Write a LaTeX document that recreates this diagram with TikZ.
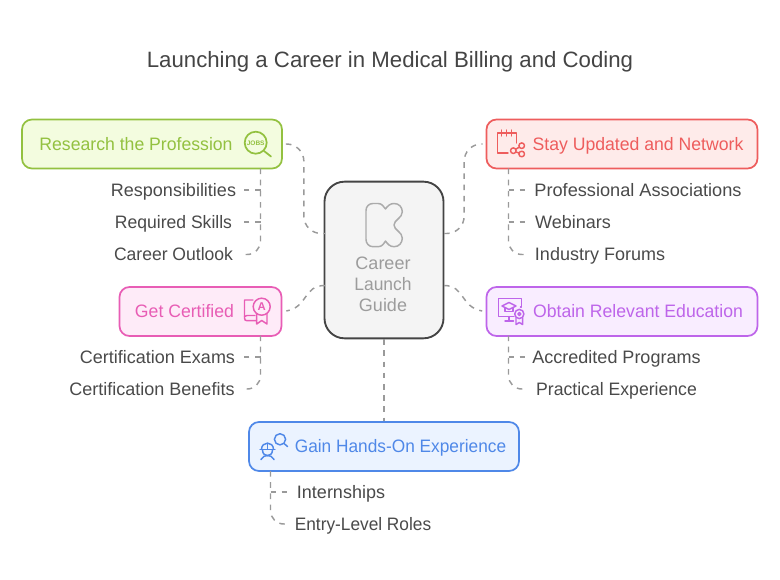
\documentclass[tikz,border=0pt]{standalone}
\usepackage{fontspec}
\usepackage{graphicx}
\setmainfont{Liberation Sans}
\usetikzlibrary{calc}
\newcommand{\sq}[2]{\scalebox{#1}[1]{#2}}
\definecolor{ink}{HTML}{4A4A4A}
\definecolor{wire}{HTML}{9A9A9A}
\definecolor{gS}{HTML}{93C140}\definecolor{gF}{HTML}{F3FCDF}
\definecolor{rS}{HTML}{EE5D5D}\definecolor{rF}{HTML}{FEEBEA}
\definecolor{pS}{HTML}{E85DB5}\definecolor{pF}{HTML}{FEEBF8}
\definecolor{vS}{HTML}{BE65EA}\definecolor{vF}{HTML}{F9EDFF}
\definecolor{bS}{HTML}{4F88E8}\definecolor{bF}{HTML}{EBF3FF}
\definecolor{hubF}{HTML}{F4F4F4}\definecolor{hubS}{HTML}{444444}\definecolor{hubT}{HTML}{9C9C9C}
\tikzset{
 x=.75pt,y=-.75pt,
 card/.style={draw=#1S,fill=#1F,line width=1.3pt,rounded corners=7.5pt,inner sep=0pt},
 hubbox/.style={draw=hubS,fill=hubF,line width=1.4pt,rounded corners=15pt,inner sep=0pt},
 head/.style={text=#1S,font=\fontsize{13.5pt}{16pt}\selectfont,anchor=base,inner sep=0pt},
 sub/.style={text=ink,font=\fontsize{13.5pt}{16pt}\selectfont,anchor=base,inner sep=0pt},
 hubtxt/.style={text=hubT,font=\fontsize{13.5pt}{16pt}\selectfont,anchor=base,inner sep=0pt},
 link/.style={draw=wire,line width=1.1pt,dash pattern=on 4.2pt off 4.2pt},
 icon/.style={draw=#1S,line width=1.1pt,line cap=round,line join=round,fill=none},
}
\begin{document}
\begin{tikzpicture}
\useasboundingbox (0,0) rectangle (780,580);
\fill[white] (0,0) rectangle (780,580);
\node[anchor=base,inner sep=0pt,text=hubS,font=\fontsize{16.65pt}{20pt}\selectfont] (title) at (390,68) {Launching a Career in Medical Billing and Coding};

% free connector ends
\coordinate (hubNW) at (325,233.5);
\coordinate (hubNE) at (444,233.5);
\coordinate (hubSW) at (325,285.5);
\coordinate (hubSE) at (444,285.5);
\coordinate (rEnd1) at (244,190);\coordinate (rEnd2) at (244,222);\coordinate (rEnd3) at (243,254.5);
\coordinate (sEnd1) at (525,190);\coordinate (sEnd2) at (525,222);\coordinate (sEnd3) at (526,254.5);
\coordinate (cEnd1) at (244,357);\coordinate (cEnd2) at (243,389);
\coordinate (oEnd1) at (525,357);\coordinate (oEnd2) at (526,389);
\coordinate (gEnd1) at (287,492);\coordinate (gEnd2) at (288,524);
\coordinate (rBus) at (260.5,168.5);\coordinate (sBus) at (508.5,168.5);
\coordinate (cBus) at (260.5,335.5);\coordinate (oBus) at (508.5,335.5);\coordinate (gBus) at (270.5,471);

% boxes
\node[card=g,minimum width=195pt,minimum height=36.75pt] (research) at (152,144) {};
\node[card=r,minimum width=203.25pt,minimum height=36.75pt] (stay) at (622,144) {};
\node[card=p,minimum width=121.5pt,minimum height=36.75pt] (cert) at (200.5,311.5) {};
\node[card=v,minimum width=203.25pt,minimum height=36.75pt] (edu) at (622,311.5) {};
\node[card=b,minimum width=202.5pt,minimum height=36.75pt] (gain) at (384,446.5) {};
\node[hubbox,minimum width=89.25pt,minimum height=117.5pt] (hub) at (384,260) {};

% hub links
\draw[link,rounded corners=13pt] ([shift={(3,0)}]research.east) -| ($(research.east)+(21,45)$) |- (hubNW);
\draw[link,rounded corners=13pt] (hubNE) -| ($(stay.west)+(-21.5,0)$) -- ([shift={(-3,0)}]stay.west);
\draw[link] (hubSW) .. controls (303,285.5) and ($(cert.east)+(26,-4.5)$) .. ([shift={(4,-.5)}]cert.east);
\draw[link] (hubSE) .. controls (465,285.5) and ($(edu.west)+(-25.5,-4.5)$) .. ([shift={(-3.5,-.5)}]edu.west);
\draw[link] (hub.south) -- (gain.north);

% branch links
\draw[link,rounded corners=10pt] (rBus) |- (rEnd3);
\draw[link] (rBus |- rEnd1) -- (rEnd1);
\draw[link] (rBus |- rEnd2) -- (rEnd2);
\draw[link,rounded corners=10pt] (sBus) |- (sEnd3);
\draw[link] (sBus |- sEnd1) -- (sEnd1);
\draw[link] (sBus |- sEnd2) -- (sEnd2);
\draw[link,rounded corners=10pt] (cBus) |- (cEnd2);
\draw[link] (cBus |- cEnd1) -- (cEnd1);
\draw[link,rounded corners=10pt] (oBus) |- (oEnd2);
\draw[link] (oBus |- oEnd1) -- (oEnd1);
\draw[link,rounded corners=10pt] (gBus) |- (gEnd2);
\draw[link] (gBus |- gEnd1) -- (gEnd1);

% texts
\node[head=g] (t1) at (136,150.7) {\sq{.98}{Research the Profession}};
\node[sub] (t1a) at (173.5,196.7) {Responsibilities};
\node[sub] (t1b) at (173.5,228.7) {\sq{.975}{Required Skills}};
\node[sub] (t1c) at (173.5,260.7) {\sq{.975}{Career Outlook}};
\node[head=r] (t2) at (638,150.7) {\sq{.98}{Stay Updated and Network}};
\node[sub] (t2a) at (638,196.7) {\sq{1.01}{Professional Associations}};
\node[sub] (t2b) at (573,228.7) {Webinars};
\node[sub] (t2c) at (600,260.7) {Industry Forums};
\node[head=p] (t3) at (184.5,317.7) {\sq{.98}{Get Certified}};
\node[sub] (t3a) at (157.5,363.4) {Certification Exams};
\node[sub] (t3b) at (152,395.4) {Certification Benefits};
\node[head=v] (t4) at (638,317.7) {\sq{.98}{Obtain Relevant Education}};
\node[sub] (t4a) at (616.5,363.4) {Accredited Programs};
\node[sub] (t4b) at (616.5,395.4) {\sq{.98}{Practical Experience}};
\node[head=b] (t5) at (400.5,452.7) {\sq{.96}{Gain Hands-On Experience}};
\node[sub] (t5a) at (341,498.4) {Internships};
\node[sub] (t5b) at (363,530.4) {\sq{.96}{Entry-Level Roles}};
\node[hubtxt] (h1) at (383,269.8) {Career};
\node[hubtxt] (h2) at (383,290.8) {\sq{.97}{Launch}};
\node[hubtxt] (h3) at (383,311.8) {Guide};

% hub logo
\draw[draw=hubT!85!white,line width=1.1pt,line join=round] (373,203.5) -- (378,203.5) .. controls (382,203.5) and (383.5,206.5) .. (385.5,209)
 .. controls (387.5,206) and (390,203.5) .. (394,203.5) .. controls (399,203.5) and (402.3,207) .. (402.3,212)
 .. controls (402.3,218) and (394,220) .. (394,225) .. controls (394,230) and (402.3,232) .. (402.3,238)
 .. controls (402.3,243) and (399,246.7) .. (394,246.7) .. controls (390,246.7) and (387.5,244) .. (385.5,241)
 .. controls (383.5,244) and (382,246.7) .. (378,246.7) -- (373,246.7) .. controls (369,246.7) and (366,243.5) .. (366,239.5)
 -- (366,210.5) .. controls (366,206.5) and (369,203.5) .. (373,203.5) -- cycle;

% icon: jobs
\draw[icon=g,line width=1.3pt] (255.7,142.7) circle (11);
\draw[icon=g,line width=1.3pt] (264,151) -- (271,156.5);
\node[text=gS,inner sep=0pt,font=\fontsize{4.9pt}{4.9pt}\selectfont\bfseries] (jobs) at (255.7,143) {JOBS};

% icon: calendar + share
\draw[icon=r] (516.7,143) -- (516.7,133) -- (497.5,133) -- (497.5,153) -- (508,153);
\draw[icon=r] (501.7,130) -- (501.7,136) (506.7,130) -- (506.7,136) (511.7,130) -- (511.7,136);
\draw[icon=r] (513.3,150.7) circle (2.8) (521.7,145.7) circle (2.8) (521.7,154) circle (2.8);
\draw[icon=r] (515.8,149.2) -- (519.2,147.2) (515.8,152) -- (519.2,153);

% icon: certificate
\draw[icon=p] (253,300) -- (244.5,300) -- (244.5,318) .. controls (244.5,320) and (245.5,320.7) .. (247,320.7) -- (256.5,320.7);
\draw[icon=p] (244.5,316.5) .. controls (245,315.5) and (246,315.5) .. (247,315.5) -- (255,315.5);
\draw[icon=p] (261.7,306.7) circle (8.5);
\draw[icon=p] (256.7,313.5) -- (256.7,324) -- (261.7,320.5) -- (267,324) -- (267,313.5);
\node[text=pS,inner sep=0pt,font=\fontsize{8.5pt}{8.5pt}\selectfont\bfseries] (grade) at (261.7,306.7) {A};

% icon: education
\draw[icon=v] (520.5,307) -- (521.7,307) -- (521.7,298.3) -- (498.3,298.3) -- (498.3,316.7) -- (514,316.7);
\draw[icon=v] (509,316.7) -- (509,321) (505,321) -- (513.5,321);
\draw[icon=v] (509,302.5) -- (516,306) -- (509,309.5) -- (502,306) -- cycle;
\draw[icon=v] (505,308) -- (505,311.5) -- (513,311.5) -- (513,308);
\draw[icon=v] (519.3,314) circle (4.6) (519.3,314) circle (1.5);
\draw[icon=v] (516,318) -- (516,324.5) -- (519.3,322.5) -- (522.6,324.5) -- (522.6,318);

% icon: hands-on
\draw[icon=b] (280,439.3) circle (5.6);
\draw[icon=b] (284,443.5) -- (287.5,446.5);
\draw[icon=b] (261.5,449.5) .. controls (261.5,441) and (273.5,441) .. (273.5,449.5);
\draw[icon=b] (260,449.5) -- (275,449.5);
\draw[icon=b] (262.5,450) .. controls (262.5,457.5) and (272.5,457.5) .. (272.5,450);
\draw[icon=b] (267.5,444) -- (267.5,449);
\draw[icon=b] (261,459.5) .. controls (262.5,456.5) and (265,455.5) .. (267.5,455.5) .. controls (270,455.5) and (272.5,456.5) .. (274,459.5);
\end{tikzpicture}
\end{document}
